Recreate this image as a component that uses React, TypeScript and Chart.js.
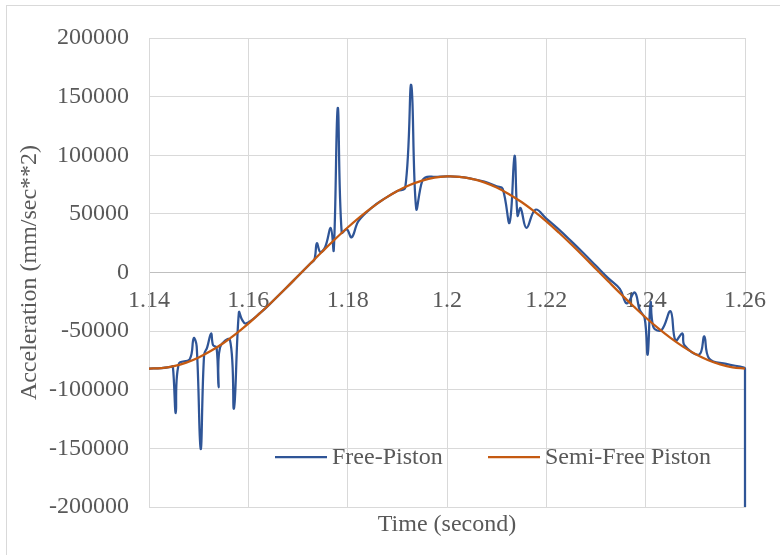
import React, { useEffect, useRef } from 'react';
import { Chart, registerables } from 'chart.js';

Chart.register(...registerables);

const FONT = '"Liberation Serif", "Times New Roman", serif';
const TEXT = '#595959';

const seriesLabels = ['Free-Piston', 'Semi-Free Piston'];
const seriesColors = ['#2F5597', '#C55A11'];

const xTickLabels = ['1.14', '1.16', '1.18', '1.2', '1.22', '1.24', '1.26'];
const yTickLabels = ['-200000', '-150000', '-100000', '-50000', '0', '50000', '100000', '150000', '200000'];

const semiTime = [
  1.14, 1.1425, 1.145, 1.1475, 1.15, 1.1525, 1.155, 1.1575, 1.16, 1.1625, 1.165, 1.1675,
  1.17, 1.1725, 1.175, 1.1775, 1.18, 1.1825, 1.185, 1.1875, 1.19, 1.1925, 1.195, 1.1975,
  1.2, 1.2025, 1.205, 1.2075, 1.21, 1.2125, 1.215, 1.2175, 1.22, 1.2225, 1.225, 1.2275,
  1.23, 1.2325, 1.235, 1.2375, 1.24, 1.2425, 1.245, 1.2475, 1.25, 1.2525, 1.255, 1.2575, 1.26,
];
const semiAccel = [
  -81900, -81600, -79900, -76900, -72500, -66800, -60100, -52300, -43600, -34100, -24100, -13700,
  -3000, 7700, 18300, 28600, 38400, 47500, 55800, 63200, 69500, 74600, 78400, 80900,
  81900, 81600, 79900, 76900, 72500, 66800, 60100, 52300, 43600, 34100, 24100, 13700,
  3000, -7700, -18300, -28600, -38400, -47500, -55800, -63200, -69500, -74600, -78400, -80900, -81900,
];

const freeTime = [
  1.14, 1.1425, 1.1444, 1.1448, 1.1454, 1.146, 1.1482, 1.149, 1.1496, 1.1504, 1.1511, 1.1517,
  1.1525, 1.1529, 1.1536, 1.154, 1.1543, 1.1563, 1.1571, 1.1581, 1.1587, 1.1595, 1.1625, 1.165,
  1.1675, 1.17, 1.1725, 1.1733, 1.1738, 1.1745, 1.1755, 1.1766, 1.1772, 1.178, 1.1788, 1.1798,
  1.1808, 1.1822, 1.185, 1.1875, 1.19, 1.1916, 1.1928, 1.1938, 1.195, 1.196, 1.1975, 1.2,
  1.2025, 1.205, 1.2075, 1.21, 1.2112, 1.2126, 1.2136, 1.2142, 1.2148, 1.216, 1.2178, 1.22,
  1.2225, 1.225, 1.2275, 1.23, 1.2325, 1.2348, 1.2362, 1.2378, 1.2388, 1.2398, 1.2404, 1.241,
  1.2416, 1.2432, 1.245, 1.246, 1.2474, 1.2478, 1.2508, 1.2518, 1.2528, 1.2562, 1.2598, 1.26, 1.26,
];
const freeAccel = [
  -81900, -81600, -80500, -80000, -120000, -78000, -74000, -56000, -63000, -150600, -70000, -64000,
  -52000, -62000, -64000, -98000, -64000, -57500, -116000, -34000, -40000, -43500, -34100, -24100,
  -13700, -3000, 7700, 11000, 25000, 17500, 22000, 38000, 19000, 140400, 34000, 37000,
  30000, 44000, 55800, 63200, 69500, 72500, 160000, 54500, 78000, 81500, 81500, 81900,
  81600, 79900, 77500, 73500, 71500, 42500, 99600, 48500, 55000, 38000, 53600, 46000,
  36800, 26800, 16400, 5700, -5000, -14000, -26400, -17000, -32000, -39000, -70000, -25500,
  -47000, -49000, -33000, -58000, -52000, -62000, -70000, -54500, -73500, -78000, -81000, -82000, -200000,
];

const insideLegend = {
  id: 'insideLegend',
  afterDraw(chart: any) {
    const { ctx, chartArea } = chart;
    ctx.save();
    ctx.font = `24px ${FONT}`;
    ctx.textBaseline = 'middle';
    ctx.textAlign = 'left';
    const y = chartArea.bottom - 50;
    const starts = [chartArea.left + 126, chartArea.left + 339];
    chart.data.datasets.forEach((ds: any, i: number) => {
      const x = starts[i];
      ctx.strokeStyle = ds.borderColor;
      ctx.lineWidth = 2.25;
      ctx.beginPath();
      ctx.moveTo(x, y);
      ctx.lineTo(x + 52, y);
      ctx.stroke();
      ctx.fillStyle = TEXT;
      ctx.fillText(ds.label, x + 57, y + 1);
    });
    ctx.restore();
  },
};

export default function App() {
  const ref = useRef<HTMLCanvasElement>(null);

  useEffect(() => {
    if (!ref.current) return;
    Chart.defaults.font.family = FONT;
    Chart.defaults.color = TEXT;
    const chart = new Chart(ref.current, {
      type: 'line',
      data: {
        datasets: [
          {
            label: seriesLabels[0],
            data: freeTime.map((t, i) => ({ x: t, y: freeAccel[i] })),
            borderColor: seriesColors[0],
            backgroundColor: seriesColors[0],
            borderWidth: 2.25,
            pointRadius: 0,
            tension: 0.4,
            fill: false,
            order: 1,
            clip: 6,
          },
          {
            label: seriesLabels[1],
            data: semiTime.map((t, i) => ({ x: t, y: semiAccel[i] })),
            borderColor: seriesColors[1],
            backgroundColor: seriesColors[1],
            borderWidth: 2.25,
            pointRadius: 0,
            tension: 0.4,
            fill: false,
            order: 0,
          },
        ],
      },
      options: {
        responsive: false,
        animation: false,
        events: [],
        layout: { padding: { top: 38, right: 32, bottom: 0, left: 0 } },
        plugins: { legend: { display: false }, tooltip: { enabled: false } },
        scales: {
          x: {
            type: 'linear',
            position: 'bottom',
            min: 1.14,
            max: 1.26,
            ticks: { display: false, stepSize: 0.02 },
            grid: { color: '#D9D9D9', drawTicks: false, lineWidth: 1 },
            border: { display: true, color: '#D9D9D9' },
            title: {
              display: true,
              text: 'Time (second)',
              color: TEXT,
              font: { size: 24, family: FONT },
              padding: { top: 0, bottom: 15.6 },
            },
            afterFit: (s: any) => { s.height = 48; },
          },
          x2: {
            type: 'linear',
            axis: 'x',
            position: { y: 0 },
            min: 1.14,
            max: 1.26,
            grid: { display: false, drawTicks: false },
            border: { display: true, color: '#BFBFBF' },
            ticks: {
              stepSize: 0.02,
              padding: 14,
              color: TEXT,
              font: { size: 24, family: FONT },
              maxRotation: 0,
              autoSkip: false,
              callback: (_v: any, i: number) => xTickLabels[i],
            },
          },
          y: {
            type: 'linear',
            min: -200000,
            max: 200000,
            ticks: {
              stepSize: 50000,
              padding: 20,
              color: TEXT,
              font: { size: 24, family: FONT },
              callback: (_v: any, i: number) => yTickLabels[i],
            },
            grid: { color: '#D9D9D9', drawTicks: false, lineWidth: 1 },
            border: { display: true, color: '#D9D9D9' },
            title: {
              display: true,
              text: 'Acceleration (mm/sec**2)',
              color: TEXT,
              font: { size: 24, family: FONT },
              padding: { top: 15.6, bottom: 0 },
            },
            afterFit: (s: any) => { s.width = 149; },
          },
        } as any,
      },
      plugins: [insideLegend],
    });
    return () => chart.destroy();
  }, []);

  return (
    <div style={{ position: 'fixed', left: 0, top: 0, width: 780, height: 555, overflow: 'hidden', background: '#ffffff' }}>
      <div
        style={{
          position: 'absolute',
          left: 6,
          top: 5,
          width: 800,
          height: 600,
          border: '1px solid #D9D9D9',
          boxSizing: 'border-box',
        }}
      />
      <canvas ref={ref} width={780} height={555} style={{ position: 'absolute', left: 0, top: 0, width: 780, height: 555 }} />
    </div>
  );
}
